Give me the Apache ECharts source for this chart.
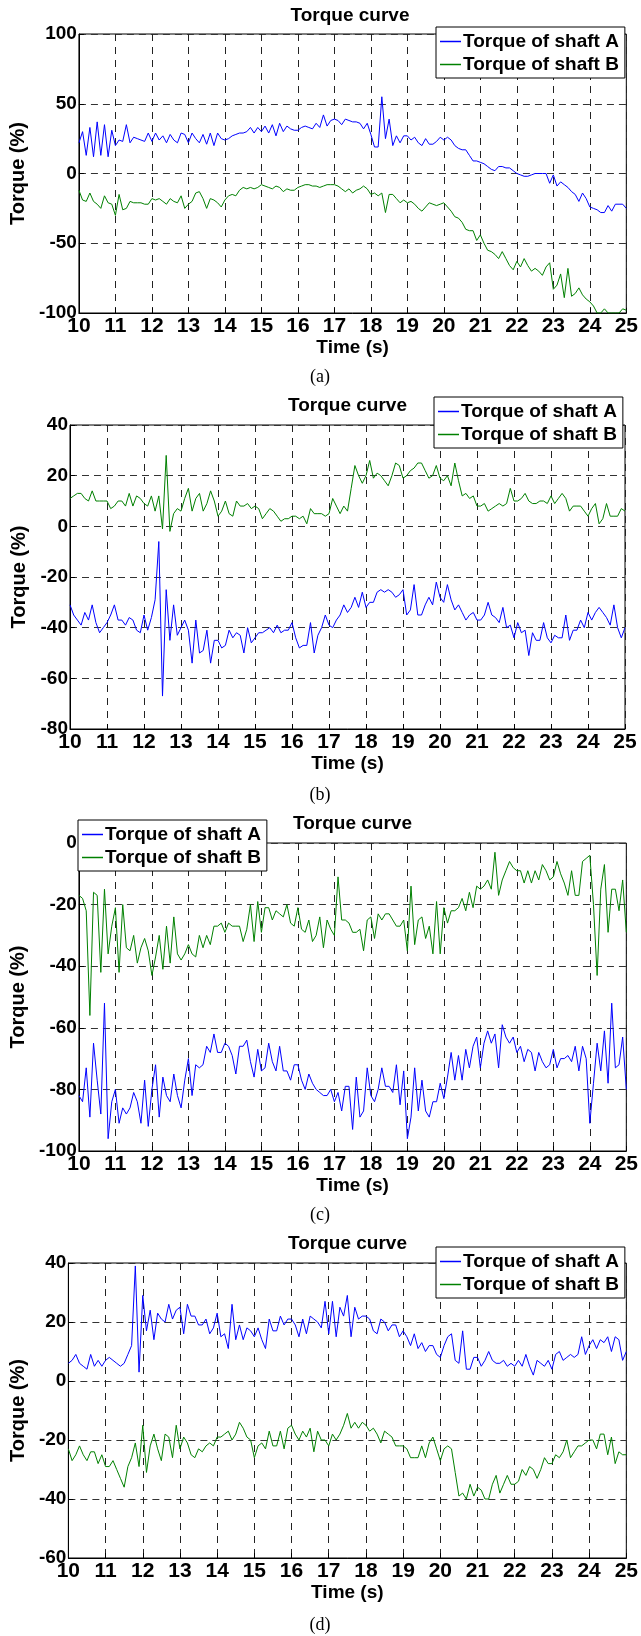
<!DOCTYPE html>
<html>
<head>
<meta charset="utf-8">
<script src="https://cdn.jsdelivr.net/npm/echarts@6/dist/echarts.min.js"></script>
<style>
html,body{margin:0;padding:0;background:#fff;}
#chart{width:641px;height:1636px;}
</style>
</head>
<body>
<div id="chart"></div>
<script>
// ---- data ----
const tStart = 10, tStep = 0.1, tCount = 151;
const xTicks = [10,11,12,13,14,15,16,17,18,19,20,21,22,23,24,25];
const seriesNames = ['Torque of shaft A', 'Torque of shaft B'];
const panelTitles = ['Torque curve','Torque curve','Torque curve','Torque curve'];
const captions = ['(a)','(b)','(c)','(d)'];
const yRanges = [[-100,100,50],[-80,40,20],[-100,0,20],[-60,40,20]];

const aA = [22,30,13,33,12,37,13,35,12,31, 20,24,23,35,22,26,25,24,23,29, 23,29,24,27,22,28,24,22,29,28,
  22,29,25,22,28,21,29,20,29,25, 24,25,27,28,29,29,30,33,29,33, 30,34,29,35,27,36,30,34,32,31,
  31,33,34,33,32,36,33,42,34,38, 39,38,35,39,38,37,37,36,32,36, 28,19,19,55,25,39,20,27,22,27,
  27,24,26,22,20,25,21,21,23,26, 24,26,24,20,18,17,17,13,9,9, 8,7,5,3,2,5,5,4,4,2,
  0,-1,-2,-2,-1,0,0,0,0,-7, -1,-9,-6,-8,-10,-13,-15,-20,-14,-18, -24,-25,-26,-28,-28,-23,-27,-22,-22,-22, -25];
const aB = [-12,-19,-20,-14,-20,-22,-25,-16,-21,-22, -30,-15,-26,-25,-20,-21,-21,-21,-22,-22,
  -18,-19,-18,-20,-22,-18,-20,-21,-16,-25, -22,-20,-14,-13,-18,-25,-18,-19,-21,-24,
  -19,-16,-15,-16,-12,-10,-11,-10,-11,-10, -8,-9,-10,-11,-9,-10,-13,-11,-12,-12,
  -10,-9,-8,-8,-9,-9,-10,-9,-8,-8, -8,-9,-11,-13,-11,-14,-12,-11,-9,-11,
  -15,-14,-16,-14,-28,-15,-15,-18,-21,-19, -21,-20,-22,-25,-27,-24,-21,-22,-23,-22,
  -21,-24,-27,-31,-32,-35,-40,-41,-41,-48, -44,-50,-55,-56,-58,-61,-56,-61,-66,-69,
  -63,-67,-61,-66,-70,-68,-70,-73,-67,-64, -83,-80,-72,-89,-68,-88,-86,-82,-87,-90,
  -92,-95,-100,-100,-97,-100,-100,-100,-100,-97, -98];
const bA = [-31,-35,-37,-39,-34,-37,-31,-38,-42,-40, -38,-35,-31,-37,-37,-39,-36,-37,-41,-42,
  -35,-41,-36,-29,-6,-67,-25,-45,-31,-43, -40,-37,-41,-54,-37,-50,-49,-41,-54,-45,
  -45,-48,-47,-41,-44,-42,-43,-50,-40,-46, -44,-42,-42,-41,-40,-42,-39,-42,-41,-41,
  -38,-44,-48,-47,-47,-38,-50,-43,-40,-35, -39,-40,-37,-35,-31,-34,-32,-28,-32,-26,
  -32,-30,-30,-26,-25,-26,-25,-26,-28,-27, -25,-35,-33,-23,-35,-35,-31,-28,-31,-22,
  -28,-30,-23,-29,-33,-31,-34,-37,-35,-34, -37,-37,-35,-30,-35,-36,-38,-32,-40,-39,
  -44,-38,-42,-41,-51,-42,-45,-45,-38,-44, -46,-43,-44,-44,-35,-45,-41,-41,-37,-40,
  -34,-37,-34,-32,-34,-36,-39,-31,-40,-44, -40];
const bB = [11,12,13,13,11,10,14,10,10,10, 10,7,8,10,10,8,13,8,12,11, 9,8,12,6,12,-1,28,-2,5,7,
  6,11,15,6,11,13,6,9,14,10, 4,6,10,5,4,10,8,8,9,7, 8,7,3,5,7,6,4,2,3,3,
  4,4,3,4,1,7,5,5,5,4, 5,11,8,5,8,6,15,24,20,17, 20,26,19,21,20,18,16,20,25,24,
  19,20,22,23,25,25,22,19,20,24, 19,18,20,16,25,18,12,13,11,12, 8,8,9,6,7,8,9,8,9,15,
  10,10,11,13,10,9,9,10,10,9, 12,9,11,13,11,6,8,8,8,6, 4,7,9,1,3,9,4,4,4,7, 6];
const cA = [-82,-84,-73,-89,-65,-77,-88,-52,-96,-84, -80,-91,-86,-88,-86,-81,-84,-91,-77,-92,
  -80,-72,-89,-76,-82,-84,-75,-82,-86,-77, -70,-82,-72,-73,-72,-66,-68,-62,-68,-68,
  -65,-66,-69,-75,-66,-66,-64,-71,-76,-67, -74,-73,-65,-71,-74,-66,-74,-74,-77,-72,
  -72,-77,-80,-75,-78,-80,-81,-82,-82,-80, -84,-81,-87,-79,-79,-93,-76,-89,-87,-73,
  -82,-84,-80,-73,-79,-79,-81,-72,-85,-74, -96,-89,-73,-87,-77,-87,-89,-84,-84,-78,
  -83,-76,-68,-77,-69,-77,-67,-73,-66,-63, -73,-65,-61,-65,-62,-73,-59,-63,-65,-63,
  -68,-66,-71,-67,-68,-74,-68,-71,-73,-72, -67,-73,-70,-70,-69,-71,-66,-74,-66,-70,
  -91,-78,-65,-74,-61,-78,-52,-73,-72,-63, -80];
const cB = [-17,-18,-22,-56,-16,-17,-42,-15,-36,-27, -21,-42,-20,-34,-35,-30,-39,-34,-31,-35,
  -43,-37,-30,-41,-27,-39,-24,-36,-38,-36, -33,-36,-37,-30,-34,-30,-33,-27,-27,-26,
  -29,-26,-27,-27,-27,-32,-28,-20,-32,-19, -29,-21,-21,-25,-22,-23,-24,-20,-26,-27,
  -21,-28,-29,-25,-32,-30,-24,-34,-25,-28, -30,-11,-25,-25,-26,-29,-29,-28,-35,-25,
  -24,-31,-23,-25,-23,-23,-25,-27,-27,-25, -35,-14,-33,-25,-24,-31,-27,-36,-19,-36,
  -21,-26,-22,-22,-21,-18,-22,-16,-21,-14, -15,-14,-12,-15,-3,-17,-12,-9,-6,-8,
  -9,-9,-13,-9,-13,-9,-12,-7,-9,-12, -11,-6,-10,-13,-17,-9,-17,-17,-6,-5,
  -4,-20,-43,-15,-7,-29,-15,-15,-22,-12, -29];
const dA = [6,7,9,6,5,4,9,5,7,5, 7,8,7,6,5,6,9,12,39,3, 29,17,24,14,23,21,20,26,21,24,
  25,16,26,22,22,19,19,21,16,18, 23,15,16,11,26,14,19,14,18,17, 15,18,14,11,21,17,17,22,19,21,
  21,19,15,21,16,22,21,20,18,27, 16,27,15,25,22,29,15,25,21,22, 22,21,17,16,21,20,17,19,19,15,
  17,15,12,16,11,13,10,12,12,9, 8,12,15,16,7,6,17,4,4,8, 8,5,7,10,7,6,6,7,5,6,
  5,7,5,9,5,2,7,6,5,7, 4,9,10,7,8,9,8,9,15,9, 12,14,11,14,13,15,10,15,14,7, 10];
const dB = [-23,-27,-25,-22,-25,-27,-24,-24,-28,-25, -29,-29,-27,-30,-33,-36,-29,-26,-21,-29,
  -15,-31,-22,-18,-23,-27,-18,-19,-26,-15, -23,-19,-21,-25,-26,-23,-24,-22,-21,-22,
  -19,-19,-18,-17,-20,-18,-14,-16,-19,-20, -26,-22,-21,-23,-17,-22,-22,-17,-23,-16,
  -15,-18,-20,-17,-19,-16,-24,-17,-20,-20, -22,-18,-20,-18,-15,-11,-16,-14,-16,-14,
  -15,-17,-16,-18,-21,-17,-18,-19,-22,-22, -22,-23,-26,-26,-26,-22,-26,-21,-19,-23,
  -27,-23,-22,-23,-31,-39,-38,-40,-35,-39, -36,-37,-40,-40,-35,-32,-38,-35,-32,-35,
  -35,-34,-30,-32,-29,-30,-33,-30,-26,-28, -28,-25,-26,-24,-20,-26,-24,-22,-22,-21,
  -20,-20,-23,-18,-18,-25,-19,-28,-24,-25, -25];

const panelData = [[aA,aB],[bA,bB],[cA,cB],[dA,dB]];

// ---- layout ----
const FONT = '"Liberation Sans", Arial, Helvetica, sans-serif';
const grids = [
  {left:73, top:34, width:554, height:279},
  {left:70, top:425, width:555, height:304},
  {left:78, top:843, width:549, height:308},
  {left:63, top:1263, width:569, height:295}
];
const legendPos = [{left:436, top:27},{left:434, top:397},{left:78, top:820},{left:436, top:1247}];
const yNameGap = [47, 36, 44, 36];
const titleY = [6, 396, 814, 1234];
const captionY = [368, 786, 1206, 1616];
const colors = ['#0000ff', '#008000'];

const time = [];
for (let i = 0; i < tCount; i++) time.push(+(tStart + i * tStep).toFixed(2));

const option = {
  animation: false,
  backgroundColor: '#fff',
  title: [],
  legend: [],
  grid: [],
  xAxis: [],
  yAxis: [],
  series: []
};

grids.forEach((g, k) => {
  option.grid.push(Object.assign({show: true, borderColor: '#000', borderWidth: 1, backgroundColor: 'transparent'}, g));
  option.title.push({
    text: panelTitles[k], left: g.left + g.width / 2, top: titleY[k], textAlign: 'center', padding: 0,
    textStyle: {fontFamily: FONT, fontWeight: 'bold', fontSize: 19, color: '#000'}
  });
  option.title.push({
    text: captions[k], left: 320, top: captionY[k], textAlign: 'center', padding: 0,
    textStyle: {fontFamily: '"Liberation Serif", "Times New Roman", serif', fontWeight: 'normal', fontSize: 18, color: '#000'}
  });
  option.legend.push({
    data: seriesNames, orient: 'vertical', left: legendPos[k].left, top: legendPos[k].top,
    padding: [5, 6, 4, 4], itemGap: 4, itemWidth: 21, itemHeight: 1.5, icon: 'rect',
    backgroundColor: '#fff', borderColor: '#000', borderWidth: 1, borderRadius: 0,
    selectedMode: false, z: 10,
    textStyle: {fontFamily: FONT, fontWeight: 'bold', fontSize: 19, color: '#000', padding: [0, 0, 0, -3]}
  });
  option.xAxis.push({
    type: 'value', gridIndex: k, min: xTicks[0], max: xTicks[xTicks.length - 1], interval: 1,
    name: 'Time (s)', nameLocation: 'middle', nameGap: 24,
    nameTextStyle: {fontFamily: FONT, fontWeight: 'bold', fontSize: 19, color: '#000'},
    axisLine: {show: true, onZero: false, lineStyle: {color: '#000', width: 1}},
    axisTick: {show: true, inside: true, length: 5, lineStyle: {color: '#000'}},
    axisLabel: {fontFamily: FONT, fontWeight: 'bold', fontSize: 21, color: '#000', margin: 3,
      showMinLabel: true, showMaxLabel: true, hideOverlap: false},
    splitLine: {show: true, lineStyle: {color: '#222', width: 1, type: [7, 6]}}
  });
  option.yAxis.push({
    type: 'value', gridIndex: k, min: yRanges[k][0], max: yRanges[k][1], interval: yRanges[k][2],
    name: 'Torque (%)', nameLocation: 'middle', nameGap: yNameGap[k], nameRotate: 90,
    nameTextStyle: {fontFamily: FONT, fontWeight: 'bold', fontSize: 20, color: '#000'},
    axisLine: {show: true, onZero: false, lineStyle: {color: '#000', width: 1}},
    axisTick: {show: true, inside: true, length: 5, lineStyle: {color: '#000'}},
    axisLabel: {fontFamily: FONT, fontWeight: 'bold', fontSize: 19, color: '#000', margin: 2,
      showMinLabel: true, showMaxLabel: true},
    splitLine: {show: true, lineStyle: {color: '#333', width: 1, type: [7, 5]}}
  });
  panelData[k].forEach((vals, s) => {
    option.series.push({
      type: 'line', name: seriesNames[s], xAxisIndex: k, yAxisIndex: k,
      data: time.map((t, i) => [t, vals[i]]),
      symbol: 'none', clip: true,
      lineStyle: {color: colors[s], width: 1}, itemStyle: {color: colors[s]},
      emphasis: {disabled: true}
    });
  });
});

const chart = echarts.init(document.getElementById('chart'), null, {renderer: 'canvas'});
chart.setOption(option);
</script>
</body>
</html>
